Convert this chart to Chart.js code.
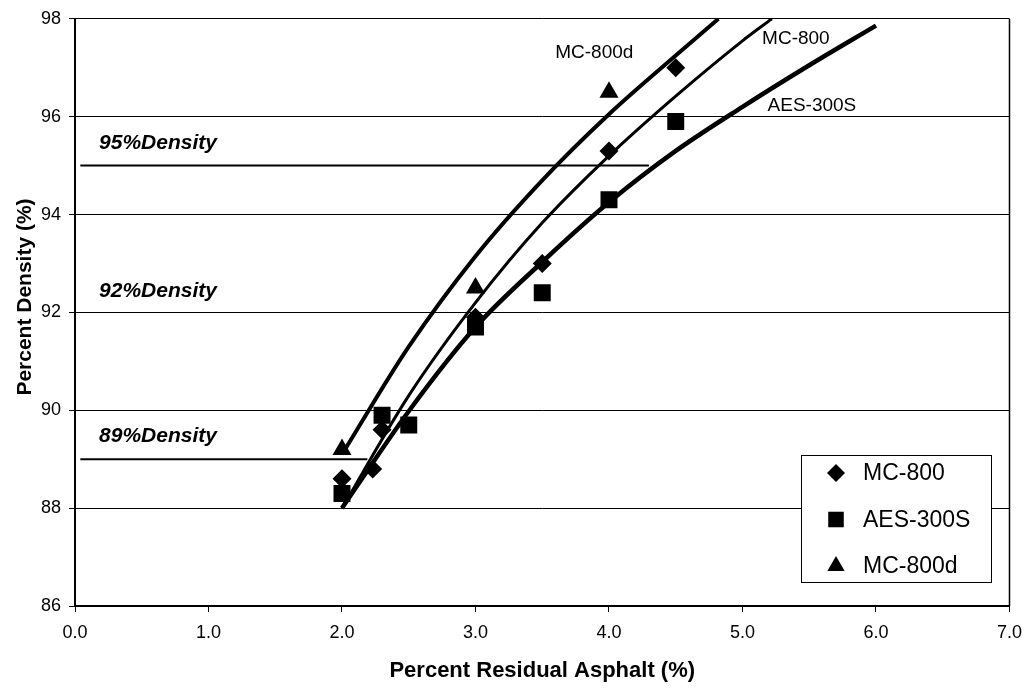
<!DOCTYPE html>
<html lang="en">
<head>
    <meta charset="UTF-8">
    <title>Percent Density vs Percent Residual Asphalt</title>
    <script src="https://cdn.jsdelivr.net/npm/chart.js"></script>
    <style>
        html, body {
            margin: 0;
            padding: 0;
            background: #fff;
        }
        canvas {
            display: block;
        }
    </style>
</head>
<body>
    <canvas id="chartDensity" width="1032" height="688"></canvas>

    <script>
        // measured points
        const mc800X = [2.0, 2.23, 2.3, 3.0, 3.5, 4.0, 4.5];
        const mc800Y = [88.6, 88.8, 89.6, 91.9, 93.0, 95.3, 97.0];
        const aesX = [2.0, 2.3, 2.5, 3.0, 3.5, 4.0, 4.5];
        const aesY = [88.3, 89.9, 89.7, 91.7, 92.4, 94.3, 95.9];
        const mc800dX = [2.0, 3.0, 4.0];
        const mc800dY = [89.2, 92.5, 96.5];

        // trend curves
        const trendMc800dX = [2.0, 2.5, 3.0, 3.5, 4.0, 4.5, 4.82];
        const trendMc800dY = [89.1, 91.3, 93.15, 94.7, 96.05, 97.25, 98.0];
        const trendMc800X = [2.0, 2.5, 3.0, 3.5, 4.0, 4.5, 5.0, 5.22];
        const trendMc800Y = [88.0, 90.3, 92.2, 93.83, 95.2, 96.42, 97.55, 98.0];
        const trendAesX = [2.0, 2.5, 3.0, 3.5, 4.0, 4.5, 5.0, 5.5, 6.0];
        const trendAesY = [88.0, 89.98, 91.7, 93.03, 94.25, 95.3, 96.2, 97.05, 97.86];

        // reference density lines
        const densityLevels = [95, 89];
        const densityStartX = [0.04, 0.04];
        const densityEndX = [4.30, 2.19];

        const xTicks = [0, 1, 2, 3, 4, 5, 6, 7];
        const yTicks = [86, 88, 90, 92, 94, 96, 98];

        const FONT = 'Arial, "Liberation Sans", sans-serif';

        const pares = (xs, ys) => xs.map((x, i) => ({ x: x, y: ys[i] }));

        function curva(label, xs, ys, ancho) {
            return {
                label: label,
                data: pares(xs, ys),
                showLine: true,
                borderColor: '#000',
                borderWidth: ancho,
                pointRadius: 0,
                cubicInterpolationMode: 'monotone',
                fill: false
            };
        }

        function puntos(label, xs, ys, estilo, radio) {
            return {
                label: label,
                data: pares(xs, ys),
                showLine: false,
                pointStyle: estilo,
                pointRadius: radio,
                pointHoverRadius: radio,
                backgroundColor: '#000',
                borderColor: '#000',
                pointBorderWidth: 0
            };
        }

        const lineasDensidad = densityLevels.map((nivel, i) => ({
            label: nivel + '% line',
            data: [{ x: densityStartX[i], y: nivel }, { x: densityEndX[i], y: nivel }],
            showLine: true,
            borderColor: '#000',
            borderWidth: 2,
            pointRadius: 0
        }));

        const notasPlugin = {
            id: 'notas',
            afterDatasetsDraw(chart, args, opts) {
                const { ctx, chartArea: a, scales } = chart;
                const sx = scales.x, sy = scales.y;
                ctx.save();

                // right border of the plot area
                ctx.strokeStyle = '#000';
                ctx.lineWidth = 1.5;
                ctx.beginPath();
                ctx.moveTo(a.right, a.top);
                ctx.lineTo(a.right, a.bottom);
                ctx.stroke();

                // text notes
                ctx.fillStyle = '#000';
                ctx.textBaseline = 'middle';
                opts.textos.forEach(t => {
                    ctx.font = t.font;
                    ctx.textAlign = t.align;
                    ctx.fillText(t.text, sx.getPixelForValue(t.x), sy.getPixelForValue(t.y));
                });

                // y axis title (sits a bit above the middle, as in the original)
                const T = opts.tituloY;
                ctx.save();
                ctx.translate(T.x, T.y);
                ctx.rotate(-Math.PI / 2);
                ctx.font = T.font;
                ctx.textAlign = 'center';
                ctx.fillText(T.text, 0, 0);
                ctx.restore();

                // legend box
                const L = opts.leyenda;
                ctx.fillStyle = '#fff';
                ctx.fillRect(L.left, L.top, L.width, L.height);
                ctx.strokeStyle = '#000';
                ctx.lineWidth = 1;
                ctx.strokeRect(L.left + 0.5, L.top + 0.5, L.width, L.height);
                ctx.font = L.font;
                ctx.textAlign = 'left';
                L.items.forEach((idx, i) => {
                    const ds = chart.data.datasets[idx];
                    const cy = L.top + L.firstRow + i * L.rowGap;
                    ctx.fillStyle = '#000';
                    Chart.helpers.drawPoint(ctx, {
                        pointStyle: ds.pointStyle,
                        radius: L.markerRadius[i],
                        rotation: 0,
                        borderWidth: 0
                    }, L.left + L.markerX, cy);
                    ctx.fillStyle = '#000';
                    ctx.fillText(ds.label, L.left + L.textX, cy + 1);
                });
                ctx.restore();
            }
        };

        const ctx = document.getElementById('chartDensity').getContext('2d');
        new Chart(ctx, {
            type: 'scatter',
            data: {
                datasets: [
                    curva('Trend MC-800d', trendMc800dX, trendMc800dY, 4),
                    curva('Trend MC-800', trendMc800X, trendMc800Y, 3),
                    curva('Trend AES-300S', trendAesX, trendAesY, 4.5),
                    ...lineasDensidad,
                    puntos('MC-800', mc800X, mc800Y, 'rectRot', 9.5),
                    puntos('AES-300S', aesX, aesY, 'rect', 12),
                    puntos('MC-800d', mc800dX, mc800dY, 'triangle', 11)
                ]
            },
            options: {
                responsive: false,
                devicePixelRatio: 1,
                animation: false,
                layout: { padding: { left: 0, top: 16, right: 17, bottom: 0 } },
                plugins: {
                    legend: { display: false },
                    tooltip: { enabled: false },
                    notas: {
                        textos: [
                            { text: '95%Density', x: 0.18, y: 95.45, align: 'left', font: 'italic bold 21px ' + FONT },
                            { text: '92%Density', x: 0.18, y: 92.44, align: 'left', font: 'italic bold 21px ' + FONT },
                            { text: '89%Density', x: 0.18, y: 89.46, align: 'left', font: 'italic bold 21px ' + FONT },
                            { text: 'MC-800d', x: 3.89, y: 97.3, align: 'center', font: '19px ' + FONT },
                            { text: 'MC-800', x: 5.4, y: 97.6, align: 'center', font: '19px ' + FONT },
                            { text: 'AES-300S', x: 5.52, y: 96.23, align: 'center', font: '19px ' + FONT }
                        ],
                        tituloY: {
                            text: 'Percent Density (%)',
                            x: 25, y: 297,
                            font: 'bold 21px ' + FONT
                        },
                        leyenda: {
                            left: 801, top: 455, width: 190, height: 127,
                            markerX: 35, textX: 62, firstRow: 18, rowGap: 46.5,
                            markerRadius: [9, 11, 10],
                            font: '23px ' + FONT,
                            items: [5, 6, 7]
                        }
                    }
                },
                scales: {
                    x: {
                        type: 'linear',
                        min: 0,
                        max: 7,
                        afterBuildTicks: s => { s.ticks = xTicks.map(v => ({ value: v })); },
                        afterFit: s => { s.height = 82; },
                        ticks: {
                            color: '#000',
                            font: { family: FONT, size: 18 },
                            padding: 10,
                            maxRotation: 0,
                            callback: v => Number(v).toFixed(1)
                        },
                        grid: {
                            drawOnChartArea: false,
                            drawTicks: true,
                            tickLength: 6,
                            color: '#000',
                            lineWidth: 1
                        },
                        border: { color: '#000', width: 2 },
                        title: {
                            display: true,
                            text: 'Percent Residual Asphalt (%)',
                            color: '#000',
                            font: { family: FONT, size: 22, weight: 'bold' },
                            padding: { top: 4, bottom: 4 }
                        }
                    },
                    y: {
                        type: 'linear',
                        min: 86,
                        max: 98,
                        afterBuildTicks: s => { s.ticks = yTicks.map(v => ({ value: v })); },
                        afterFit: s => { s.width = 75; },
                        ticks: {
                            color: '#000',
                            font: { family: FONT, size: 18 },
                            padding: 8
                        },
                        grid: {
                            color: '#000',
                            lineWidth: 1,
                            tickLength: 6
                        },
                        border: { color: '#000', width: 2 },
                        title: { display: false }
                    }
                }
            },
            plugins: [notasPlugin]
        });
    </script>
</body>
</html>
